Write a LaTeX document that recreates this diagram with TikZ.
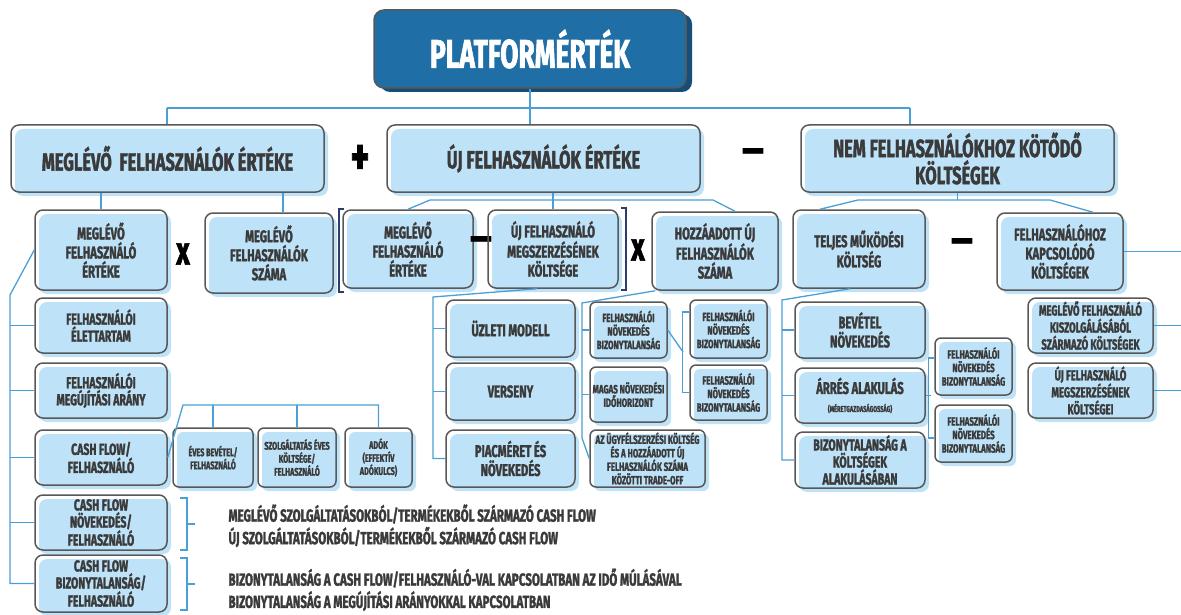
\documentclass[tikz,border=0pt]{standalone}
\usepackage{fontspec}
\usetikzlibrary{shadows}
\newfontfamily\dgfont[FakeStretch=0.66, BoldFeatures={FakeBold=1.6}]{Fira Sans}
\definecolor{boxfill}{RGB}{190,226,247}
\definecolor{boxline}{RGB}{88,88,88}
\definecolor{linkblue}{RGB}{74,160,214}
\definecolor{titleblue}{RGB}{31,111,166}
\definecolor{titleshadow}{RGB}{22,78,122}
\definecolor{textgray}{RGB}{58,58,58}
\definecolor{bracketnavy}{RGB}{45,60,110}

\begin{document}
\begin{tikzpicture}[x=1pt,y=-1pt,
    box/.style={draw=boxline, line width=1.5pt, rounded corners=8pt, align=center,
        text=textgray, inner sep=2pt,
        general shadow={shadow xshift=4pt, shadow yshift=-4pt, fill=boxfill}},
    title/.style={draw=boxline, line width=1.5pt, fill=titleblue, rounded corners=10pt,
        text=white, minimum width=312pt, minimum height=78pt,
        font=\dgfont\bfseries\fontsize{40}{44}\selectfont,
        general shadow={shadow xshift=6pt, shadow yshift=-4pt, fill=titleshadow}},
    big/.style={box, minimum width=313pt, minimum height=67pt,
        font=\dgfont\bfseries\fontsize{25}{27}\selectfont},
    mid/.style={box, font=\dgfont\bfseries\fontsize{17}{19}\selectfont},
    tight/.style={inner ysep=1pt, font=\dgfont\bfseries\fontsize{16}{17}\selectfont},
    small/.style={box, rounded corners=6pt, shadow xshift=3pt,
        font=\dgfont\bfseries\fontsize{12}{13.5}\selectfont},
    cfsmall/.style={small, font=\dgfont\bfseries\fontsize{11}{13}\selectfont},
    sign/.style={text=black, font=\dgfont\bfseries\fontsize{40}{40}\selectfont},
    note/.style={anchor=west, text=textgray, font=\dgfont\bfseries\fontsize{17.5}{19}\selectfont},
    link/.style={draw=linkblue, line width=1.3pt},
    bracket/.style={draw=bracketnavy, line width=1.3pt}]

    \useasboundingbox (0,0) rectangle (1181,615);

    % top and first level
    \node[title] (title) at (530,49) {PLATFORMÉRTÉK};

    \node[big] (curval) at (167.5,158.5) {MEGLÉVŐ\ \ FELHASZNÁLÓK ÉRTÉKE};
    \node[sign, font=\dgfont\bfseries\fontsize{54}{54}\selectfont] (plus) at (360,160) {+};
    \node[big] (newval) at (543.5,158.5) {ÚJ FELHASZNÁLÓK ÉRTÉKE};
    \node[sign] (minusA) at (753,156) {—};
    \node[big] (nonuser) at (957.5,158.5) {NEM FELHASZNÁLÓKHOZ KÖTŐDŐ\\KÖLTSÉGEK};

    % second level
    \node[mid, minimum width=132pt, minimum height=80pt] (curuser) at (101,250)
        {MEGLÉVŐ\\FELHASZNÁLÓ\\ÉRTÉKE};
    \node[sign] (timesA) at (183,254) {x};
    \node[mid, minimum width=128pt, minimum height=80pt] (curcount) at (269,253)
        {MEGLÉVŐ\\FELHASZNÁLÓK\\SZÁMA};
    \node[mid, minimum width=130pt, minimum height=78pt] (curuserB) at (408,249)
        {MEGLÉVŐ\\FELHASZNÁLÓ\\ÉRTÉKE};
    \node[sign] (minusB) at (481,244) {—};
    \node[mid, minimum width=130pt, minimum height=78pt] (acqcost) at (553,249)
        {ÚJ FELHASZNÁLÓ\\MEGSZERZÉSÉNEK\\KÖLTSÉGE};
    \node[sign] (timesB) at (638,250) {x};
    \node[mid, minimum width=126pt, minimum height=78pt] (newcount) at (715,251)
        {HOZZÁADOTT ÚJ\\FELHASZNÁLÓK\\SZÁMA};
    \node[mid, minimum width=132pt, minimum height=78pt] (opcost) at (859,249)
        {TELJES MŰKÖDÉSI\\KÖLTSÉG};
    \node[sign] (minusC) at (962,246) {—};
    \node[mid, minimum width=126pt, minimum height=77pt] (usercost) at (1060,251.5)
        {FELHASZNÁLÓHOZ\\KAPCSOLÓDÓ\\KÖLTSÉGEK};

    \draw[bracket] (344,209) -- (339,209) -- (339,292) -- (344,292);
    \draw[bracket] (621,208) -- (626,208) -- (626,290) -- (621,290);

    % left column
    \node[mid, tight, minimum width=132pt, minimum height=55pt] (lifetime) at (101,325.5)
        {FELHASZNÁLÓI\\ÉLETTARTAM};
    \node[mid, tight, minimum width=132pt, minimum height=55pt] (renewal) at (101,390.5)
        {FELHASZNÁLÓI\\MEGÚJÍTÁSI ARÁNY};
    \node[mid, tight, minimum width=132pt, minimum height=55pt] (cashflow) at (101,457.5)
        {CASH FLOW/\\FELHASZNÁLÓ};
    \node[mid, tight, minimum width=132pt, minimum height=55pt] (cfgrowth) at (101,522.5)
        {CASH FLOW\\NÖVEKEDÉS/\\FELHASZNÁLÓ};
    \node[mid, tight, minimum width=132pt, minimum height=57pt] (cfrisk) at (101,583.5)
        {CASH FLOW\\BIZONYTALANSÁG/\\FELHASZNÁLÓ};

    \node[cfsmall, minimum width=80pt, minimum height=59pt] (revenue) at (213,457.5)
        {ÉVES BEVÉTEL/\\FELHASZNÁLÓ};
    \node[cfsmall, minimum width=78pt, minimum height=59pt] (servcost) at (297,457.5)
        {SZOLGÁLTATÁS ÉVES\\KÖLTSÉGE/\\FELHASZNÁLÓ};
    \node[cfsmall, minimum width=67pt, minimum height=59pt] (tax) at (378.5,457.5)
        {ADÓK\\(EFFEKTÍV\\ADÓKULCS)};

    \draw[link] (180,498) -- (187,498) -- (187,550) -- (180,550) (187,524) -- (195,524);
    \draw[link] (180,558) -- (187,558) -- (187,610) -- (180,610) (187,584) -- (195,584);

    \node[note] (noteA) at (225,514) {MEGLÉVŐ SZOLGÁLTATÁSOKBÓL/TERMÉKEKBŐL SZÁRMAZÓ CASH FLOW};
    \node[note] (noteB) at (225,537) {ÚJ SZOLGÁLTATÁSOKBÓL/TERMÉKEKBŐL SZÁRMAZÓ CASH FLOW};
    \node[note] (noteC) at (225,578) {BIZONYTALANSÁG A CASH FLOW/FELHASZNÁLÓ-VAL KAPCSOLATBAN AZ IDŐ MÚLÁSÁVAL};
    \node[note] (noteD) at (225,601) {BIZONYTALANSÁG A MEGÚJÍTÁSI ARÁNYOKKAL KAPCSOLATBAN};

    % middle columns
    \node[mid, minimum width=129pt, minimum height=57pt] (bizmodel) at (510.5,328.5) {ÜZLETI MODELL};
    \node[mid, minimum width=129pt, minimum height=57pt] (competition) at (510.5,391.5) {VERSENY};
    \node[mid, minimum width=129pt, minimum height=57pt] (market) at (510.5,458.5)
        {PIACMÉRET ÉS\\NÖVEKEDÉS};

    \node[small, minimum width=77pt, minimum height=56pt] (growthA) at (628.5,330)
        {FELHASZNÁLÓI\\NÖVEKEDÉS\\BIZONYTALANSÁG};
    \node[small, minimum width=77pt, minimum height=55pt] (horizon) at (628.5,394.5)
        {MAGAS NÖVEKEDÉSI\\IDŐHORIZONT};
    \node[small, minimum width=115pt, minimum height=57pt] (tradeoff) at (647.5,458.5)
        {AZ ÜGYFÉLSZERZÉSI KÖLTSÉG\\ÉS A HOZZÁADOTT ÚJ\\FELHASZNÁLÓK SZÁMA\\KÖZÖTTI TRADE-OFF};
    \node[small, minimum width=77pt, minimum height=58pt] (growthB) at (728.5,329)
        {FELHASZNÁLÓI\\NÖVEKEDÉS\\BIZONYTALANSÁG};
    \node[small, minimum width=77pt, minimum height=55pt] (growthC) at (728.5,392.5)
        {FELHASZNÁLÓI\\NÖVEKEDÉS\\BIZONYTALANSÁG};

    % right columns
    \node[mid, minimum width=130pt, minimum height=56pt] (revgrowth) at (860,330)
        {BEVÉTEL\\NÖVEKEDÉS};
    \node[mid, minimum width=130pt, minimum height=55pt] (margin) at (860,395.5)
        {ÁRRÉS ALAKULÁS\\[-1pt]{\fontsize{8.5}{10}\selectfont (MÉRETGAZDASÁGOSSÁG)}};
    \node[mid, tight, minimum width=130pt, minimum height=56pt] (costrisk) at (860,460)
        {BIZONYTALANSÁG A\\KÖLTSÉGEK\\ALAKULÁSÁBAN};
    \node[small, minimum width=77pt, minimum height=57pt] (growthD) at (973.5,366.5)
        {FELHASZNÁLÓI\\NÖVEKEDÉS\\BIZONYTALANSÁG};
    \node[small, minimum width=77pt, minimum height=57pt] (growthE) at (973.5,433.5)
        {FELHASZNÁLÓI\\NÖVEKEDÉS\\BIZONYTALANSÁG};
    \node[mid, tight, font=\dgfont\bfseries\fontsize{14.5}{17}\selectfont,
        minimum width=125pt, minimum height=55pt] (servecost) at (1090.5,325.5)
        {MEGLÉVŐ FELHASZNÁLÓ\\KISZOLGÁLÁSÁBÓL\\SZÁRMAZÓ KÖLTSÉGEK};
    \node[mid, tight, font=\dgfont\bfseries\fontsize{14.5}{17}\selectfont,
        minimum width=125pt, minimum height=55pt] (acqcostB) at (1090.5,390.5)
        {ÚJ FELHASZNÁLÓ\\MEGSZERZÉSÉNEK\\KÖLTSÉGEI};

    % connectors
    \coordinate (hubL) at (167,108);
    \coordinate (hubR) at (910,108);
    \draw[link] (hubL) -- (hubR);
    \draw[link] (title.south) -- (title.south |- newval.north);
    \draw[link] (hubL) -- (hubL |- curval.north);
    \draw[link] (hubR) -- (hubR |- nonuser.north);

    \draw[link] (curuser.north) -- (curuser.north |- curval.south);
    \draw[link] ([xshift=14pt]curcount.north) -- ([xshift=14pt]curcount.north |- curval.south);

    \coordinate (midL) at (430,200);
    \coordinate (midR) at (713,200);
    \draw[link] (curuserB.north) -- (midL) -- (midR) -- ([xshift=20pt]newcount.north);
    \draw[link] (newval.south -| acqcost.north) -- (acqcost.north);

    \coordinate (rightL) at (858,200);
    \coordinate (rightR) at (1050,200);
    \draw[link] ([xshift=-39pt]opcost.north) -- (rightL) -- (rightR) -- ([xshift=33pt]usercost.north);
    \draw[link] (nonuser.south) -- (nonuser.south |- rightL);

    \coordinate (railA) at (10,295);
    \draw[link] (curuser.west) -- (railA) |- (cfrisk.west);
    \foreach \n in {lifetime,renewal,cashflow,cfgrowth}
        \draw[link] (\n.west) -- (\n.west -| railA);

    \coordinate (railB) at (183,405);
    \draw[link] (cashflow.east) -- (railB) -| (tax.north);
    \foreach \n in {revenue,servcost}
        \draw[link] (\n.north) -- (\n.north |- railB);

    \coordinate (railC) at (433,297);
    \draw[link] ([xshift=-16pt]acqcost.south) -- (railC) |- (market.west);
    \foreach \n in {bizmodel,competition}
        \draw[link] (\n.west) -- (\n.west -| railC);

    \coordinate (railD) at (582,303);
    \coordinate (railDend) at (582,438);
    \draw[link] ([xshift=4pt]newcount.south west) -- (railD) -- (railDend) -- (tradeoff.west);
    \foreach \n in {growthA,horizon}
        \draw[link] (\n.west) -- (\n.west -| railD);

    \coordinate (railE) at (683,352);
    \draw[link] (growthA.east) -- (railE);
    \draw[link] ([yshift=17pt]growthB.west) -- ++(-7,0) |- (growthC.west);

    \coordinate (railF) at (782,300);
    \draw[link] ([xshift=-9pt]opcost.south) -- (railF) |- (costrisk.west);
    \foreach \n in {revgrowth,margin}
        \draw[link] (\n.west) -- (\n.west -| railF);
    \draw[link] ([yshift=8.5pt]growthD.west) -- ++(-6,0) |- ([yshift=-4.5pt]growthE.west);
    \draw[link] (margin.east) -- ++(5,0);

    \coordinate (edge) at (1181,0);
    \foreach \n in {usercost,servecost,acqcostB}
        \draw[link] (\n.east) -- (\n.east -| edge);
\end{tikzpicture}
\end{document}
